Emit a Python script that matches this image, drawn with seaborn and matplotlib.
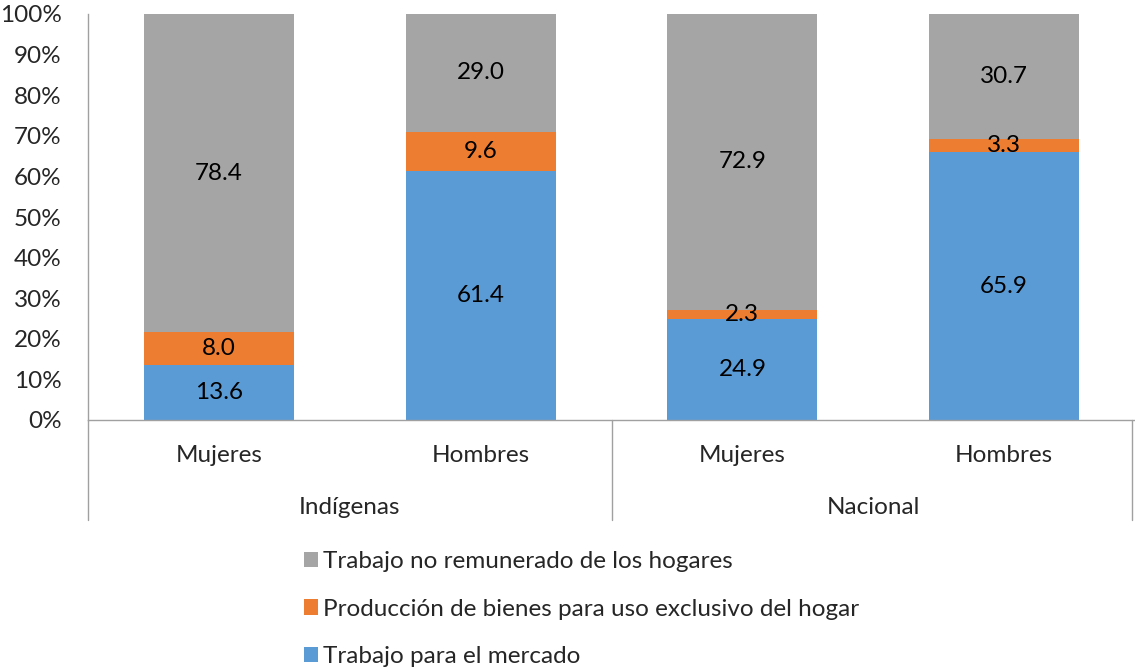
import matplotlib
matplotlib.use("Agg")
import matplotlib.pyplot as plt
import seaborn as sns
import pandas as pd
import numpy as np
from matplotlib.patches import Patch

groups = ["Indígenas", "Indígenas", "Nacional", "Nacional"]
sexes = ["Mujeres", "Hombres", "Mujeres", "Hombres"]
mercado = [13.6, 61.4, 24.9, 65.9]
produccion = [8.0, 9.6, 2.3, 3.3]
no_remunerado = [78.4, 29.0, 72.9, 30.7]
series_names = ["Trabajo para el mercado",
                "Producción de bienes para uso exclusivo del hogar",
                "Trabajo no remunerado de los hogares"]
colors = ["#5B9BD5", "#ED7D31", "#A5A5A5"]

sns.set_style("white")
plt.rcParams['font.family'] = ['Lato', 'DejaVu Sans']
FS = 17.5

vals = np.array([mercado, produccion, no_remunerado], dtype=float)
totals = vals.sum(axis=0)
pct = vals / totals * 100
cum = np.cumsum(pct, axis=0)

keys = [f"{g}-{s}" for g, s in zip(groups, sexes)]

fig = plt.figure(figsize=(11.35, 6.71), dpi=100)
W, H = 1135, 671
ax = fig.add_axes([88 / W, (H - 420) / H, 1047 / W, 406 / H])

for i in [2, 1, 0]:
    df = pd.DataFrame({"key": keys, "val": cum[i]})
    sns.barplot(data=df, x="key", y="val", color=colors[i], width=0.573,
                ax=ax, saturation=1, edgecolor="none", linewidth=0, order=keys)

# labels
for j in range(4):
    base = 0
    for i in range(3):
        ax.text(j, base + pct[i, j] / 2, f"{vals[i, j]:.1f}", ha="center", va="center",
                fontsize=FS, color="black")
        base += pct[i, j]

ax.set_xlim(-0.5, 3.5)
ax.set_ylim(0, 100)
ax.set_yticks(np.arange(0, 101, 10))
ax.set_yticklabels([f"{t}%" for t in range(0, 101, 10)], fontsize=FS)
ax.tick_params(axis="y", length=0, pad=19)
ax.set_xticks([])
ax.set_xlabel("")
ax.set_ylabel("")
for s in ["top", "right"]:
    ax.spines[s].set_visible(False)
ax.spines["left"].set_color("#A0A0A0")
ax.spines["bottom"].set_color("#A0A0A0")
ax.spines["left"].set_linewidth(1)
ax.spines["bottom"].set_linewidth(1)

# hierarchical category labels
trans = ax.get_xaxis_transform()
for j, s in enumerate(sexes):
    ax.text(j, -35 / 406, s, transform=trans, ha="center", va="center", fontsize=FS)
for gname, center in [("Indígenas", 0.5), ("Nacional", 2.5)]:
    ax.text(center, -87 / 406, gname, transform=trans, ha="center", va="center", fontsize=FS)
for xsep in [-0.5, 1.5, 3.49]:
    ax.plot([xsep, xsep], [0, -100 / 406], transform=trans, color="#A0A0A0",
            lw=1, clip_on=False)

handles = [Patch(facecolor=colors[i], edgecolor="none") for i in [2, 1, 0]]
labels = [series_names[i] for i in [2, 1, 0]]
fig.legend(handles, labels, loc="upper left", bbox_to_anchor=(282 / W, 1 - 529 / H),
           frameon=False, fontsize=FS, handlelength=0.6, handleheight=0.6,
           handletextpad=0.2, labelspacing=1.1)

fig.savefig("out.png", dpi=100)
